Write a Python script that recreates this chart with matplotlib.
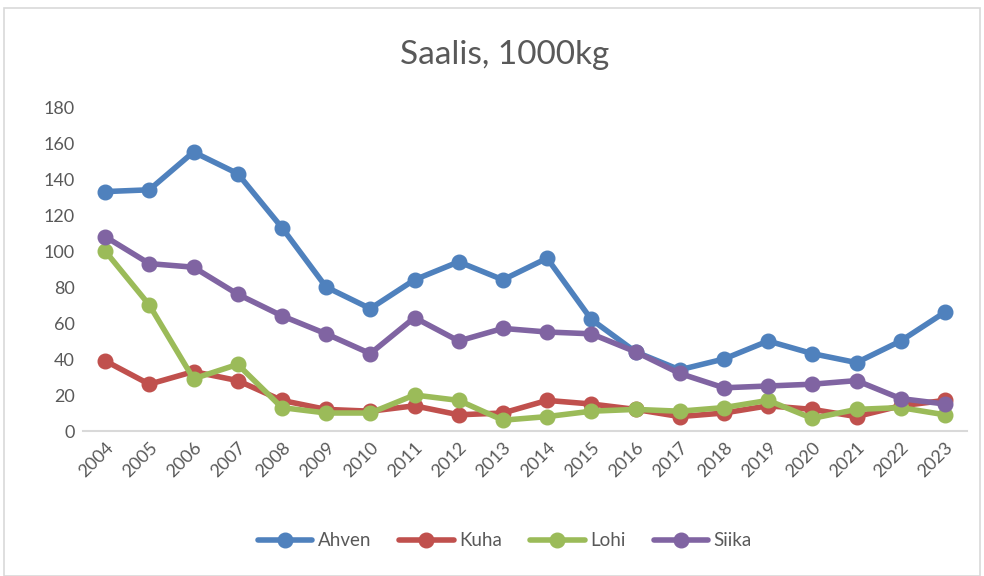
import matplotlib
matplotlib.use("Agg")
import matplotlib.pyplot as plt
from matplotlib.patches import Rectangle

years = [str(y) for y in range(2004, 2024)]
ahven = [133, 134, 155, 143, 113, 80, 68, 84, 94, 84, 96, 62, 44, 34, 40, 50, 43, 38, 50, 66]
kuha = [39, 26, 33, 28, 17, 12, 11, 14, 9, 10, 17, 15, 12, 8, 10, 14, 12, 8, 14, 17]
lohi = [100, 70, 29, 37, 13, 10, 10, 20, 17, 6, 8, 11, 12, 11, 13, 17, 7, 12, 13, 9]
siika = [108, 93, 91, 76, 64, 54, 43, 63, 50, 57, 55, 54, 44, 32, 24, 25, 26, 28, 18, 15]
series = [("Ahven", ahven, "#4F81BD"), ("Kuha", kuha, "#C0504D"),
          ("Lohi", lohi, "#9BBB59"), ("Siika", siika, "#8064A2")]
yticks = list(range(0, 181, 20))

plt.rcParams['font.family'] = ['Lato', 'DejaVu Sans']
fig = plt.figure(figsize=(9.84, 5.76), dpi=100)
fig.patches.append(Rectangle((0.004, 0.0), 0.992, 0.986, transform=fig.transFigure,
                             fill=False, edgecolor="#d9d9d9", linewidth=1.2))
ax = fig.add_axes([83/984, 1-431/576, 884/984, 324/576])
x = list(range(len(years)))
for name, vals, col in series:
    ax.plot(x, vals, color=col, linewidth=4.0, marker='o', markersize=10.5, label=name,
            solid_capstyle='round')
ax.set_xlim(-0.5, len(years) - 0.5)
ax.set_ylim(0, 180)
ax.set_yticks(yticks)
ax.set_yticklabels([str(t) for t in yticks], fontsize=13, color="#595959")
ax.set_xticks(x)
ax.set_xticklabels(years, rotation=45, ha='right', rotation_mode='anchor', fontsize=13, color="#595959")
ax.tick_params(length=0, pad=6)
for s in ['top', 'right', 'left']:
    ax.spines[s].set_visible(False)
ax.spines['bottom'].set_color("#d9d9d9")
ax.spines['bottom'].set_linewidth(1.5)
fig.text(0.513, 1-55/576, "Saalis, 1000kg", ha='center', va='center', fontsize=24, color="#595959")
leg = fig.legend(loc='center', bbox_to_anchor=(0.513, 1-541/576), ncol=4, frameon=False,
                 fontsize=13.5, labelcolor="#595959", handlelength=2.9, columnspacing=1.5,
                 handletextpad=0.3)
fig.savefig("out.png", dpi=100)
